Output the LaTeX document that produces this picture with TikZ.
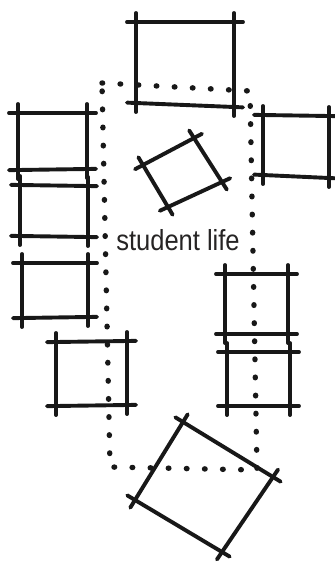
\documentclass[tikz,border=0pt]{standalone}
\usepackage{fontspec}
\newfontfamily\labelfont{Liberation Sans}[FakeStretch=0.88]
\usepackage{tikz}
\definecolor{ink}{RGB}{24,24,24}
\definecolor{graphite}{RGB}{38,36,36}
\newcommand{\roomquad}[4]{\draw[wall](#1)--(#2);\draw[wall](#2)--(#3);\draw[wall](#3)--(#4);\draw[wall](#4)--(#1);}

\begin{document}
\begin{tikzpicture}[x=1pt,y=-1pt,
  wall/.style={ink,line width=3.9pt,line cap=round,shorten <=-9pt,shorten >=-9pt},
  trail/.style={ink,line width=5.4pt,line cap=round,dash pattern=on 0.6pt off 17.5pt},
  tag/.style={font=\labelfont\fontsize{29}{31}\selectfont,text=graphite,inner sep=0pt}]
  \useasboundingbox (0,0) rectangle (335,563);
  \coordinate (nw) at (102,83);
  \coordinate (ne) at (250,91);
  \coordinate (se) at (257,470);
  \coordinate (sw) at (110,467);
  \draw[trail] (nw)--(ne)--(se)--(sw)--cycle;
  \roomquad{136,22}{234,22}{234,107}{136,103}
  \roomquad{18,113}{87,113}{87,169}{18,170}
  \roomquad{20,185}{88,186}{88,237}{20,236}
  \roomquad{22,263}{88,263}{88,317}{22,318}
  \roomquad{56,342}{127,341}{127,405}{56,406}
  \roomquad{263,115}{329,116}{329,178}{263,175}
  \roomquad{225,274}{288,274}{288,334}{225,334}
  \roomquad{227,352}{290,352}{290,406}{227,406}
  \roomquad{143,165}{194,138}{222,182}{168,207}
  \roomquad{183,422}{273,477}{222,552}{135,500}
  \node[tag,anchor=base] (life) at (178,250) {student life};
\end{tikzpicture}
\end{document}
